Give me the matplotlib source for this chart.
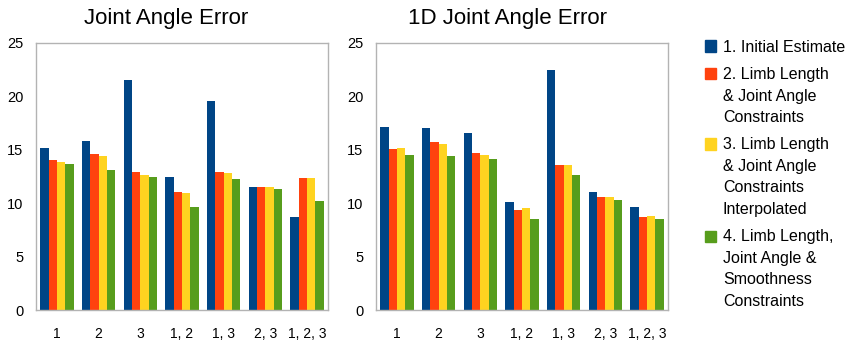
import matplotlib.pyplot as plt
import numpy as np
from matplotlib.patches import Rectangle

plt.rcParams['font.family'] = ['Liberation Sans', 'DejaVu Sans']

categories = ["1", "2", "3", "1, 2", "1, 3", "2, 3", "1, 2, 3"]
series_labels = [
    "1. Initial Estimate",
    "2. Limb Length\n& Joint Angle\nConstraints",
    "3. Limb Length\n& Joint Angle\nConstraints\nInterpolated",
    "4. Limb Length,\nJoint Angle &\nSmoothness\nConstraints",
]
colors = ["#004586", "#ff420e", "#ffd320", "#579d1c"]

joint_initial = [15.2, 15.85, 21.55, 12.45, 19.6, 11.55, 8.7]
joint_limb = [14.05, 14.65, 12.95, 11.05, 12.95, 11.55, 12.4]
joint_interp = [13.9, 14.4, 12.65, 10.95, 12.85, 11.55, 12.4]
joint_smooth = [13.7, 13.15, 12.5, 9.65, 12.3, 11.35, 10.2]

oned_initial = [17.15, 17.05, 16.6, 10.15, 22.5, 11.05, 9.65]
oned_limb = [15.1, 15.75, 14.7, 9.4, 13.6, 10.6, 8.7]
oned_interp = [15.2, 15.5, 14.55, 9.55, 13.6, 10.6, 8.8]
oned_smooth = [14.55, 14.45, 14.15, 8.55, 12.65, 10.3, 8.55]

joint_series = [joint_initial, joint_limb, joint_interp, joint_smooth]
oned_series = [oned_initial, oned_limb, oned_interp, oned_smooth]

W, H = 850, 344
fig = plt.figure(figsize=(8.5, 3.44), dpi=100)

def px(x, y):
    return x / W, 1 - y / H

def draw_panel(left, title, title_x, series):
    ax = fig.add_axes([left / W, 1 - 310 / H, 292 / W, 267 / H])
    x = np.arange(len(categories))
    width = 0.2
    for i, vals in enumerate(series):
        ax.bar(x + (i - 1.5) * width, vals, width, color=colors[i], linewidth=0)
    ax.set_xlim(-0.5, len(categories) - 0.5)
    ax.set_ylim(0, 25)
    ax.set_yticks([0, 5, 10, 15, 20, 25])
    ax.set_xticks(x)
    ax.set_xticklabels(categories)
    ax.tick_params(axis='x', length=0, pad=12, labelsize=10)
    ax.tick_params(axis='y', length=0, pad=9, labelsize=10.5)
    for s in ax.spines.values():
        s.set_color("#b3b3b3")
        s.set_linewidth(1)
    fx, fy = px(title_x, 24)
    fig.text(fx, fy, title, fontsize=16, ha='center', va='baseline')
    return ax

draw_panel(36, "Joint Angle Error", 166, joint_series)
draw_panel(376, "1D Joint Angle Error", 507, oned_series)

# legend
line_h = 21.5
gap = 6
c = 46
for i, label in enumerate(series_labels):
    lines = label.split("\n")
    sx, sy = px(705, c + 5.5)
    fig.patches.append(Rectangle((sx, sy), 11 / W, 11 / H, color=colors[i],
                                 transform=fig.transFigure, figure=fig))
    for k, line in enumerate(lines):
        tx, ty = px(723, c + k * line_h + 5.5)
        fig.text(tx, ty, line, fontsize=11.5, ha='left', va='baseline')
    c += len(lines) * line_h + gap

fig.savefig("out.png", dpi=100)
